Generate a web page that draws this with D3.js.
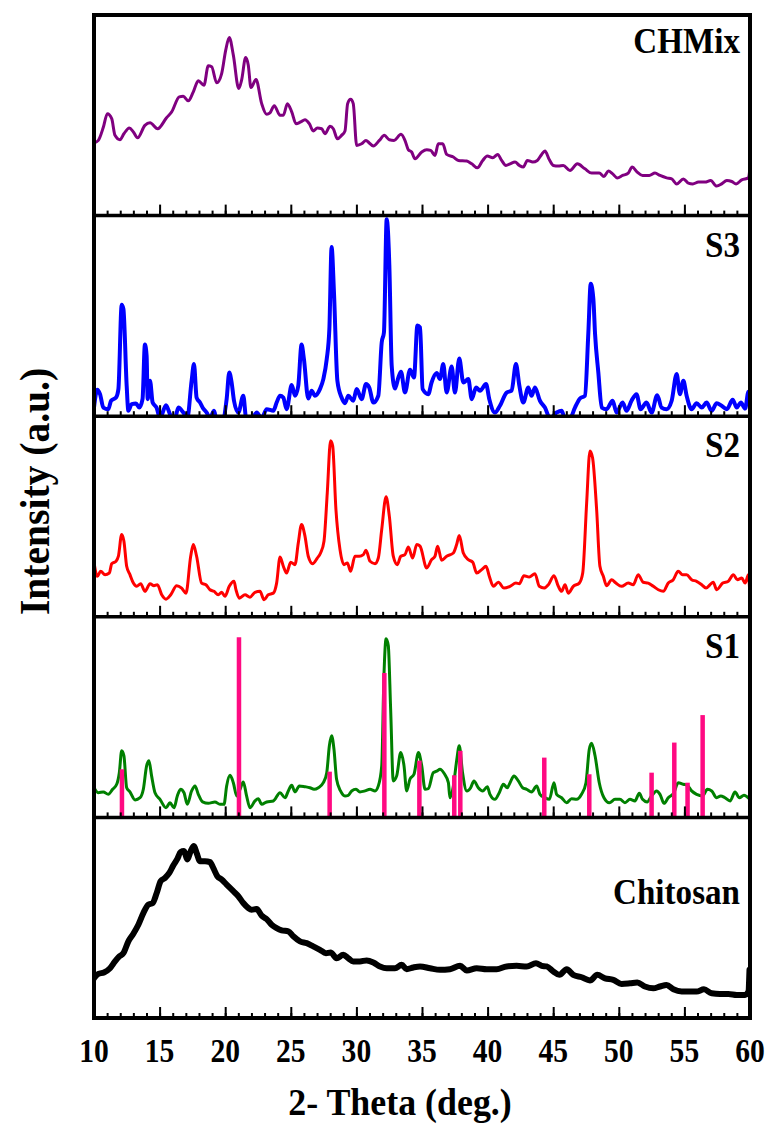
<!DOCTYPE html>
<html>
<head>
<meta charset="utf-8">
<script src="https://cdn.jsdelivr.net/npm/d3@7"></script>
<style>
  html, body { margin: 0; padding: 0; background: #fff; }
  svg { display: block; }
  text { font-family: "Liberation Serif", "Times New Roman", serif; font-weight: bold; fill: #000; }
</style>
</head>
<body>
<svg id="chart" width="769" height="1126"></svg>
<script>
// XRD patterns: [2θ (deg), relative intensity (a.u., 0–100 per panel)]
const chmix = [
  [10.0,36.2],[10.33,37.5],[10.71,44],[11.02,50.8],[11.35,48.3],[11.6,40],[11.98,37.8],[12.28,40.8],
  [12.69,43.7],[13.0,41.7],[13.32,38.8],[13.88,45],[14.27,46.3],[14.85,43.3],[15.53,48.8],[15.92,51.7],
  [16.5,59.2],[16.8,59.5],[17.19,57.2],[17.57,61.7],[17.95,67.2],[18.38,65],[18.71,74.7],[18.97,74.2],
  [19.35,66.2],[19.73,70.8],[20.04,82.5],[20.31,88.8],[20.62,80],[21.03,63.3],[21.25,67.5],[21.56,78.8],
  [21.76,75],[21.96,63.8],[22.35,67.8],[22.78,55.8],[23.16,50.5],[23.41,51.2],[23.74,54.8],[24.18,50],
  [24.43,50],[24.74,55.8],[25.07,51.7],[25.4,45.8],[25.75,46.7],[26.08,47.8],[26.41,45.8],[26.71,42.2],
  [27.02,43.7],[27.35,43.3],[27.6,40.8],[27.99,44.5],[28.24,43.3],[28.55,38.3],[28.87,40],[29.13,42.2],
  [29.33,55.8],[29.56,58],[29.76,55.8],[30.02,35],[30.4,35.8],[30.73,37.5],[30.98,36.2],[31.29,34.7],
  [31.75,37.5],[32.13,40],[32.51,37.8],[32.87,37.5],[33.4,40.5],[33.7,37.5],[33.96,32.8],[34.21,31.7],
  [34.47,28.3],[34.98,31.7],[35.36,32.8],[35.66,32.5],[35.99,30],[36.24,35.8],[36.58,35.8],[36.88,30.5],
  [37.39,29.2],[37.77,27.5],[38.41,27.2],[38.79,25.8],[39.22,23.8],[39.63,27.5],[39.98,29.7],[40.39,28.8],
  [40.77,30.5],[41.07,27.5],[41.4,25],[41.71,25.8],[42.09,26.7],[42.42,25],[42.72,24.2],[43.03,27.5],
  [43.44,26.7],[43.79,27.5],[44.12,30.5],[44.37,32.2],[44.71,27.8],[45.01,25],[45.39,24.7],[45.77,25],
  [46.28,22.5],[46.84,25.8],[47.42,23.3],[47.93,21.2],[48.51,21.2],[48.87,19.5],[49.2,22.2],[49.53,20.8],
  [49.88,18.8],[50.29,20],[50.72,21.2],[51.02,24.2],[51.4,21.7],[51.81,20],[52.32,20],[52.76,21.2],
  [53.14,20],[53.65,18.8],[54.03,18.3],[54.41,15.8],[54.92,18.3],[55.3,16.2],[55.64,15.8],[56.07,16.7],
  [56.57,16.7],[57.0,17.5],[57.46,14.7],[57.84,15.8],[58.23,17.5],[58.61,17],[58.94,15.8],[59.37,17.8],
  [59.88,18.8],[60.0,24.2]
];

const s3 = [
  [10.0,4.3],[10.25,13.2],[10.46,11],[10.71,4.3],[11.09,3.5],[11.3,7.7],[11.68,9.3],[11.86,13.5],
  [12.11,55.5],[12.24,53.5],[12.49,15.2],[12.62,2.7],[12.87,6],[13.2,6.3],[13.45,4.3],[13.7,8.5],
  [13.88,35.7],[14.01,30.2],[14.09,8.5],[14.27,17.7],[14.47,6.8],[14.77,4.3],[15.03,-1],[15.49,5.5],
  [15.79,1],[16.17,-1],[16.43,4.3],[16.81,1.8],[17.11,-1],[17.44,17.7],[17.62,26],[17.82,9.3],
  [18.08,6.8],[18.33,3.8],[18.59,1.8],[18.84,-1],[19.15,2.7],[19.35,-2],[19.86,-1],[20.11,8.5],
  [20.31,21.8],[20.49,16.8],[20.67,7.7],[21.0,1.8],[21.38,10.2],[21.59,-1],[21.9,-3],[22.4,1.8],
  [22.78,-1],[23.16,3.5],[23.67,2.7],[23.92,6.8],[24.18,10.2],[24.43,9.3],[24.68,3.5],[25.07,15.5],
  [25.32,10.2],[25.57,15.2],[25.82,35.7],[26.0,28.5],[26.33,8.8],[26.59,12.7],[26.84,10.2],[27.22,13.5],
  [27.48,18.5],[27.74,28.5],[27.94,43.5],[28.11,84.3],[28.29,61.8],[28.55,17.7],[28.87,9.3],[29.13,6.5],
  [29.38,10.2],[29.76,7.7],[30.02,13.5],[30.4,8.5],[30.73,16],[30.98,14.3],[31.29,6.8],[31.67,10.2],
  [31.93,36.8],[32.1,41.8],[32.31,98.2],[32.51,75.2],[32.69,25.2],[32.94,13.8],[33.2,19.3],[33.4,22.2],
  [33.7,11.8],[34.09,23.2],[34.39,19.3],[34.65,45.2],[34.85,44.3],[35.05,13.5],[35.48,11],[35.73,16.8],
  [36.12,21.5],[36.37,18.5],[36.62,26],[36.88,11.8],[37.26,24.8],[37.51,11.8],[37.84,28.8],[38.15,16.8],
  [38.53,18.5],[38.79,8.5],[39.12,14.3],[39.42,12.7],[39.88,16],[40.13,8.5],[40.56,1.8],[40.94,5.2],
  [41.45,11.8],[41.83,12.7],[42.16,26],[42.42,15.2],[42.72,6.8],[43.1,14.3],[43.35,10.2],[43.61,14.3],
  [43.99,7.7],[44.37,4.3],[44.76,-1],[45.26,1.8],[45.64,2.7],[45.9,-1],[46.28,-1],[46.66,4.3],
  [47.04,8.8],[47.42,10.2],[47.68,41.8],[47.86,66],[48.06,58.5],[48.19,41],[48.44,21.8],[48.7,4.3],
  [49.07,3.5],[49.53,7.7],[49.83,1.8],[50.29,6.8],[50.59,2.7],[50.97,7.7],[51.35,11],[51.66,3.5],
  [52.11,6.8],[52.5,1.8],[52.93,10.5],[53.26,4.3],[53.64,3.5],[54.03,7.7],[54.41,21],[54.66,11],
  [54.92,17.7],[55.17,10.2],[55.55,3.5],[55.93,6.5],[56.32,4.3],[56.69,6.8],[57.08,2.7],[57.46,6.5],
  [57.84,5.2],[58.23,3.5],[58.68,8.2],[58.99,4.3],[59.3,6.8],[59.63,3.8],[59.88,12.2],[60.0,8.5]
];

const s2 = [
  [10.0,27.2],[10.25,20.2],[10.51,22.7],[10.84,21],[11.17,21.8],[11.35,26.5],[11.68,27.7],[11.86,30.2],
  [12.11,41],[12.28,37.7],[12.49,25.2],[12.74,21],[13.0,16.8],[13.25,15.2],[13.56,16.5],[13.88,12.7],
  [14.27,16.5],[14.57,15.5],[14.83,16],[15.16,11],[15.49,8.8],[15.85,11],[16.3,15.5],[16.68,14.3],
  [17.01,11.8],[17.37,30.2],[17.57,36],[17.82,30.2],[18.2,16.8],[18.53,16],[18.84,13.5],[19.15,12.7],
  [19.47,11],[19.73,12.2],[19.98,10.2],[20.31,15.2],[20.67,17.7],[20.82,13.5],[21.08,9.3],[21.51,11],
  [21.89,9.8],[22.27,12.2],[22.65,12.7],[22.96,8.5],[23.28,11],[23.67,11.8],[23.92,16.8],[24.18,29.8],
  [24.43,25.2],[24.68,21.8],[24.99,27.2],[25.32,26],[25.57,36.8],[25.82,46],[26.08,40.2],[26.33,30.2],
  [26.66,26.5],[27.02,29.3],[27.27,31.8],[27.53,37.7],[27.78,61.8],[28.03,87.7],[28.19,85.2],[28.44,53.5],
  [28.75,33.5],[29.05,26],[29.31,26.8],[29.56,22.7],[29.89,30.2],[30.22,30.2],[30.53,31],[30.73,33.2],
  [31.04,27.7],[31.42,26.5],[31.67,29.3],[31.93,43.5],[32.26,59.8],[32.51,50.2],[32.81,30.2],[33.12,26],
  [33.38,30.2],[33.7,31],[33.96,34.8],[34.29,29.3],[34.6,36],[34.85,35.2],[35.36,24.3],[35.73,28.5],
  [35.99,30.2],[36.19,35.2],[36.5,28.2],[36.88,30.2],[37.39,31.8],[37.64,36],[37.84,40.5],[38.15,31.8],
  [38.53,28.5],[38.87,27.2],[39.17,21.8],[39.55,23.5],[39.88,25.2],[40.13,20.2],[40.44,15.2],[40.82,17.2],
  [41.25,14.3],[41.71,15.2],[42.16,16.8],[42.42,16.5],[42.77,20.5],[43.17,19.8],[43.61,21.5],[43.94,15.2],
  [44.3,14.3],[44.63,16],[45.06,20.5],[45.39,15.2],[45.64,12.7],[45.9,16],[46.15,11.8],[46.53,15.2],
  [46.99,16.8],[47.25,21.8],[47.55,56.8],[47.8,82.7],[48.0,79.3],[48.31,53.5],[48.56,25.2],[48.82,20.2],
  [49.07,15.5],[49.45,18.5],[49.78,16.8],[50.21,15.2],[50.72,16.8],[51.1,16],[51.48,21],[51.86,17.2],
  [52.24,16.8],[52.63,15.2],[53.01,13.5],[53.39,12.7],[53.77,16.8],[54.15,18.5],[54.53,22.7],[54.86,21],
  [55.17,21],[55.55,18.5],[55.93,17.7],[56.32,16],[56.65,14.3],[56.95,16],[57.2,17.2],[57.46,13.5],
  [57.92,16.8],[58.35,17.7],[58.73,21],[59.04,18.5],[59.37,19.3],[59.63,16.8],[59.88,21],[60.0,9.3]
];

const s1 = [
  [10.0,14.8],[10.33,12.3],[10.71,12.7],[11.09,11.5],[11.42,14],[11.73,16.5],[11.93,22.3],[12.11,33.2],
  [12.28,30.7],[12.49,14.8],[12.74,12.7],[13.13,8.7],[13.51,9.8],[13.76,14],[14.01,25.7],[14.19,28.2],
  [14.39,20.7],[14.65,12.3],[15.03,9],[15.49,4.8],[15.79,7.3],[16.1,4.8],[16.35,10.7],[16.6,14],
  [16.86,12.3],[17.11,6.5],[17.44,13.2],[17.7,15.7],[17.95,11.5],[18.28,7.7],[18.71,7],[19.22,7.7],
  [19.6,6.5],[19.91,6.5],[20.11,15.7],[20.37,21],[20.62,17.3],[20.88,10.7],[21.13,14],[21.38,17.7],
  [21.63,10.7],[21.89,4.8],[22.27,8.2],[22.52,9.3],[22.78,6.5],[23.16,7.7],[23.67,8.2],[24.18,12.3],
  [24.56,9.8],[24.81,13.2],[25.07,16],[25.32,12.7],[25.65,15.7],[26.08,15.3],[26.46,14.8],[26.77,14],
  [27.1,14.8],[27.48,17.3],[27.74,22.3],[27.94,35.7],[28.11,40.7],[28.29,34],[28.49,19],[28.79,13.2],
  [29.13,10.7],[29.38,11],[29.64,13.2],[29.97,14],[30.27,12.7],[30.66,13.2],[31.04,14],[31.42,13.2],
  [31.67,15.7],[31.93,25.7],[32.1,70.7],[32.26,89],[32.43,85.7],[32.61,54],[32.81,18.2],[33.07,20.7],
  [33.38,32.3],[33.63,25.7],[33.83,13.2],[34.08,19],[34.39,21.5],[34.73,32.3],[34.98,25.7],[35.23,14],
  [35.48,14.3],[35.86,22.3],[36.17,23.2],[36.37,24],[36.68,22],[37.01,17.3],[37.13,9.8],[37.39,15.7],
  [37.64,28.2],[37.84,35.7],[38.09,22.3],[38.41,13.2],[38.71,14.8],[38.96,18.2],[39.29,14.8],[39.63,13.2],
  [39.98,15.3],[40.18,11.5],[40.56,9],[40.89,12.3],[41.2,16.5],[41.5,14.8],[41.71,17.3],[42.01,20.7],
  [42.34,18.2],[42.67,14.8],[42.98,14],[43.35,12.7],[43.74,15.7],[43.99,11.5],[44.37,9.8],[44.71,9],
  [45.06,17.3],[45.26,11.5],[45.64,9.8],[46.02,7.3],[46.4,9.3],[46.78,9],[47.16,11.5],[47.5,17.3],
  [47.75,34],[47.93,37],[48.19,30.7],[48.51,17.3],[48.87,9.8],[49.28,7.3],[49.71,9],[50.09,9],
  [50.47,7.3],[50.85,9],[51.23,8.2],[51.56,12],[51.81,9],[52.16,7.7],[52.5,10.7],[52.88,13.2],
  [53.14,11.5],[53.45,7],[53.77,9.8],[54.2,12.3],[54.53,17.3],[54.92,16.5],[55.22,16],[55.55,13.2],
  [55.93,11.5],[56.39,10.7],[56.75,14],[57.08,13.2],[57.46,9.8],[57.77,10.7],[58.09,9.8],[58.48,8.2],
  [58.86,12.7],[59.19,9.8],[59.54,11],[59.94,9.3]
];

// reference pattern lines shown with S1: [2θ, relative intensity]
const refLines = [
  [12.13,24],[21.05,89.8],[27.96,22.8],[32.13,72],[34.8,28.3],[37.46,21],[37.92,33.2],
  [44.32,29.8],[47.75,21.5],[52.5,22.3],[54.23,37.3],[55.24,17.3],[56.39,51]
];

const chitosan = [
  [10.0,19.8],[10.33,22],[10.76,22.7],[11.22,24.8],[11.6,28.2],[11.93,30.7],[12.24,32.3],[12.62,38.2],
  [13.0,42],[13.38,46.5],[13.76,52.3],[14.14,56.5],[14.47,57.3],[14.78,62.3],[15.08,68.2],[15.41,69.8],
  [15.74,72.3],[16.04,76],[16.35,79.3],[16.6,82.7],[16.86,83.2],[17.11,79],[17.37,83.2],[17.62,85.7],
  [17.82,82.3],[18.08,78.2],[18.46,78.2],[18.84,77.7],[19.09,74.8],[19.4,70.7],[19.73,69],[20.11,66.5],
  [20.62,63.2],[21.0,60.7],[21.38,57.3],[21.76,54.8],[22.01,54],[22.4,54.3],[22.78,51],[23.16,49.3],
  [23.54,46.5],[23.92,44.8],[24.3,43.7],[24.81,43.2],[25.19,40.7],[25.7,38.2],[26.21,37.3],[26.71,35.7],
  [27.22,34],[27.68,32.3],[28.03,32.7],[28.49,29.8],[29.0,31.5],[29.38,29.8],[29.76,28.2],[30.27,28.2],
  [30.78,28.7],[31.29,27.7],[31.8,25.7],[32.31,24.8],[32.94,24.8],[33.45,26.5],[33.83,24.3],[34.34,25.2],
  [34.85,25.7],[35.61,24.8],[36.37,24],[37.13,24.3],[37.9,26],[38.41,23.7],[39.17,24.8],[39.93,24.3],
  [40.69,24.3],[41.45,25.7],[42.21,26],[42.98,25.7],[43.69,27.3],[44.12,26],[44.5,25.7],[45.01,23.2],
  [45.47,21.5],[46.03,24.3],[46.53,21.5],[47.17,20.3],[47.8,18.7],[48.36,21.5],[48.95,19.8],[49.58,19],
  [50.21,17],[50.85,17.3],[51.41,17.7],[51.99,15.7],[52.63,14.8],[53.14,15.7],[53.64,16.5],[54.16,14.3],
  [54.79,13.2],[55.43,13.2],[55.93,13.2],[56.49,14.3],[57.08,12.3],[57.71,12],[58.35,12],[58.99,11.5],
  [59.63,11.5],[59.88,13.2],[59.96,24]
];

const sampleNames = ["CHMix", "S3", "S2", "S1", "Chitosan"];
const sampleColors = ["#800080", "#0000ff", "#ff0000", "#008000", "#000000"];
const sampleWidths = [3, 4, 3, 3, 6];
const sampleData = [chmix, s3, s2, s1, chitosan];

const xDomain = [10, 60];
const majorTicks = [10, 15, 20, 25, 30, 35, 40, 45, 50, 55, 60];
const tickLabels = ["10", "15", "20", "25", "30", "35", "40", "45", "50", "55", "60"];
const minorTicks = d3.range(10, 61, 1);

const xTitle = "2- Theta (deg.)";
const yTitle = "Intensity (a.u.)";

(function draw() {
  const svg = d3.select("#chart");
  const plotL = 94, plotR = 750, plotT = 15, plotB = 1018;
  const nPanels = sampleNames.length;
  const panelH = (plotB - plotT) / nPanels;

  const x = d3.scaleLinear().domain(xDomain).range([plotL, plotR]);
  const defs = svg.append("defs");

  sampleNames.forEach((name, i) => {
    const pTop = plotT + i * panelH;
    const pBot = pTop + panelH;
    const y = d3.scaleLinear().domain([0, 100]).range([pBot, pTop]);

    const clipId = "clip" + i;
    defs.append("clipPath").attr("id", clipId)
      .append("rect").attr("x", plotL).attr("y", pTop)
      .attr("width", plotR - plotL).attr("height", panelH);

    const g = svg.append("g").attr("clip-path", `url(#${clipId})`);

    const line = d3.line()
      .x(d => x(d[0]))
      .y(d => y(d[1]))
      .curve(d3.curveMonotoneX);

    g.append("path")
      .datum(sampleData[i])
      .attr("fill", "none")
      .attr("stroke", sampleColors[i])
      .attr("stroke-width", sampleWidths[i])
      .attr("stroke-linejoin", "round")
      .attr("stroke-linecap", "round")
      .attr("d", line);

    if (name === "S1") {
      g.selectAll("rect.ref")
        .data(refLines)
        .join("rect")
        .attr("class", "ref")
        .attr("x", d => x(d[0]) - 2.25)
        .attr("width", 4.5)
        .attr("y", d => y(d[1]))
        .attr("height", d => y(0) - y(d[1]) - 1)
        .attr("fill", "#ff0a82");
    }

    // inward ticks along the bottom edge of each panel
    const minorAxis = d3.axisBottom(x).tickValues(minorTicks).tickSize(-5).tickFormat("");
    const majorAxis = d3.axisBottom(x).tickValues(majorTicks).tickSize(-11).tickFormat("");
    [minorAxis, majorAxis].forEach(ax => {
      const a = svg.append("g").attr("transform", `translate(0,${pBot})`).call(ax);
      a.select(".domain").remove();
      a.selectAll("line").attr("stroke", "#000").attr("stroke-width", 2);
    });

    // panel label
    const labelOffset = name === "Chitosan" ? 87 : (name === "CHMix" ? 38 : 41);
    svg.append("text")
      .attr("transform", `translate(740,${pTop + labelOffset}) scale(0.92,1)`)
      .attr("text-anchor", "end")
      .attr("font-size", 36)
      .text(name);

    // divider between panels
    if (i > 0) {
      svg.append("line")
        .attr("x1", plotL).attr("x2", plotR)
        .attr("y1", pTop).attr("y2", pTop)
        .attr("stroke", "#000").attr("stroke-width", 3.5);
    }
  });

  // outer frame
  svg.append("rect")
    .attr("x", plotL).attr("y", plotT)
    .attr("width", plotR - plotL).attr("height", plotB - plotT)
    .attr("fill", "none").attr("stroke", "#000").attr("stroke-width", 4);

  // bottom tick labels
  svg.append("g").selectAll("text")
    .data(majorTicks)
    .join("text")
    .attr("transform", d => `translate(${x(d)},1062) scale(0.87,1)`)
    .attr("text-anchor", "middle")
    .attr("font-size", 34)
    .text((d, i) => tickLabels[i]);

  // axis titles
  svg.append("text")
    .attr("transform", "translate(400,1115) scale(0.97,1)")
    .attr("text-anchor", "middle")
    .attr("font-size", 37)
    .text(xTitle);

  svg.append("text")
    .attr("transform", `translate(49,${(plotT + plotB) / 2 - 25}) rotate(-90) scale(0.92,1)`)
    .attr("text-anchor", "middle")
    .attr("font-size", 43)
    .text(yTitle);
})();
</script>
</body>
</html>
